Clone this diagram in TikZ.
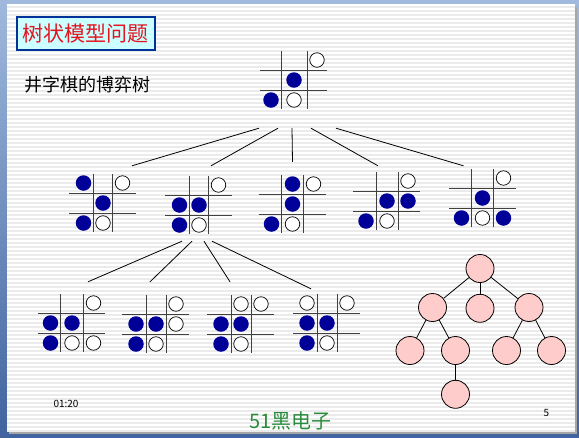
\documentclass[tikz,border=0pt]{standalone}
\usepackage{fontspec}
\usepackage{tikz}
\usetikzlibrary{positioning}
\newfontfamily\cjk{Noto Sans CJK SC}
\definecolor{stonedark}{RGB}{0,0,153}
\definecolor{titlecyan}{RGB}{204,255,255}
\definecolor{titleblue}{RGB}{0,51,153}
\definecolor{titlered}{RGB}{230,20,30}
\definecolor{nodepink}{RGB}{255,204,204}
\definecolor{brandgreen}{RGB}{40,140,60}
\definecolor{framehi}{RGB}{160,185,220}
\definecolor{framelo}{RGB}{65,100,160}

% one tic-tac-toe position: name, centre, half gap of the verticals, stones
\newcommand{\tttboard}[4]{%
  \node[boardbox] (#1) at (#2) {};
  \begin{scope}[shift={(#1.center)}]
    \draw[gridline] (-#3,-29) -- (-#3,29);
    \draw[gridline] (#3,-29) -- (#3,29);
    \draw[gridline] (-34,-10) -- (33,-10);
    \draw[gridline] (-34,10) -- (33,10);
    \foreach \cc/\rr/\kk in {#4}
      \node[\kk] at ({\cc*(#3+10)},{\rr*20}) {};
  \end{scope}}

\begin{document}
\begin{tikzpicture}[
  x=1pt, y=-1pt,
  node distance=11pt,
  boardbox/.style={rectangle, minimum width=68pt, minimum height=58pt, inner sep=0pt},
  gridline/.style={black!75, line width=1pt},
  bstone/.style={circle, fill=stonedark, inner sep=0pt, minimum size=15.5pt},
  wstone/.style={circle, draw=black, fill=white, line width=0.7pt, inner sep=0pt, minimum size=14.5pt},
  gedge/.style={black, line width=0.8pt},
  tnode/.style={circle, draw=black, fill=nodepink, line width=0.8pt, minimum size=28pt, inner sep=0pt}
]
\useasboundingbox (0,0) rectangle (579,437);
% slide background
\fill[top color=framehi, bottom color=framelo] (0,0) rectangle (579,437);
\fill[black!35] (9,7) rectangle (577,434);
\fill[white] (7,4) rectangle (575,432);
\foreach \yy in {7,11,...,431}
  \draw[gray!16, line width=1.4pt] (7,\yy) -- (575,\yy);

% headings
\node[draw=titleblue, line width=2pt, fill=titlecyan, minimum width=138pt, minimum height=33pt, inner sep=0pt, text=titlered, font=\cjk\fontsize{21}{21}\selectfont] (title) at (86,33.5) {树状模型问题};
\node[font=\cjk\fontsize{18}{18}\selectfont] (sub) at (87.5,85) {井字棋的博弈树};

% game tree
\tttboard{b0}{294,80}{13}{1/-1/wstone, 0/0/bstone, -1/1/bstone, 0/1/wstone}
\tttboard{b1}{103,203}{9.5}{-1/-1/bstone, 1/-1/wstone, 0/0/bstone, -1/1/bstone, 0/1/wstone}
\tttboard{b2}{199,205}{9.5}{1/-1/wstone, -1/0/bstone, 0/0/bstone, -1/1/bstone, 0/1/wstone}
\tttboard{b3}{292.5,204}{11}{0/-1/bstone, 1/-1/wstone, 0/0/bstone, -1/1/bstone, 0/1/wstone}
\tttboard{b4}{387,201}{11}{1/-1/wstone, 0/0/bstone, 1/0/bstone, -1/1/bstone, 0/1/wstone}
\tttboard{b5}{482.5,198}{11}{1/-1/wstone, 0/0/bstone, -1/1/bstone, 0/1/wstone, 1/1/bstone}
\tttboard{c1}{72,323}{11.5}{1/-1/wstone, -1/0/bstone, 0/0/bstone, -1/1/bstone, 0/1/wstone, 1/1/wstone}
\tttboard{c2}{156,324}{10}{1/-1/wstone, -1/0/bstone, 0/0/bstone, 1/0/wstone, -1/1/bstone, 0/1/wstone}
\tttboard{c3}{241,324}{10}{0/-1/wstone, 1/-1/wstone, -1/0/bstone, 0/0/bstone, -1/1/bstone, 0/1/wstone}
\tttboard{c4}{327,323}{10}{-1/-1/wstone, 1/-1/wstone, -1/0/bstone, 0/0/bstone, -1/1/bstone, 0/1/wstone}

\draw[gedge] ([shift={(-35,19)}]b0.south) -- ([shift={(29,-8)}]b1.north);
\draw[gedge] ([shift={(-16,19)}]b0.south) -- ([shift={(12,-10)}]b2.north);
\draw[gedge] ([shift={(-2,19)}]b0.south) -- ([shift={(0,-13)}]b3.north);
\draw[gedge] ([shift={(17,19)}]b0.south) -- ([shift={(-9,-6)}]b4.north);
\draw[gedge] ([shift={(42,19)}]b0.south) -- ([shift={(-19,-3)}]b5.north);

\draw[gedge] ([shift={(-17,7)}]b2.south) -- ([shift={(16,-12)}]c1.north);
\draw[gedge] ([shift={(-7,7)}]b2.south) -- ([shift={(-6,-13)}]c2.north);
\draw[gedge] ([shift={(5,7)}]b2.south) -- ([shift={(-11,-13)}]c3.north);
\draw[gedge] ([shift={(13,7)}]b2.south) -- ([shift={(-16,-5)}]c4.north);

% plain tree
\node[tnode] (t0) at (480,268.5) {};
\node[tnode] (t1) at (432.5,307.5) {};
\node[tnode, below=of t0] (t2) {};
\node[tnode] (t3) at (529,307.5) {};
\node[tnode] (t11) at (410,350.5) {};
\node[tnode] (t12) at (455.5,350.5) {};
\node[tnode] (t31) at (506.5,350.5) {};
\node[tnode] (t32) at (551.5,350.5) {};
\node[tnode, below=15pt of t12] (t121) {};
\draw[gedge] (t0) -- (t1);
\draw[gedge] (t0) -- (t2);
\draw[gedge] (t0) -- (t3);
\draw[gedge] (t1) -- (t11);
\draw[gedge] (t1) -- (t12);
\draw[gedge] (t12) -- (t121);
\draw[gedge] (t3) -- (t31);
\draw[gedge] (t3) -- (t32);

% footer
\node[font=\cjk\fontsize{10}{10}\selectfont] (time) at (66,404) {01:20};
\node[font=\cjk\fontsize{20}{20}\selectfont, text=brandgreen] (brand) at (290.5,421) {51黑电子};
\node[font=\cjk\fontsize{10}{10}\selectfont] (page) at (546.5,413) {5};
\end{tikzpicture}
\end{document}
